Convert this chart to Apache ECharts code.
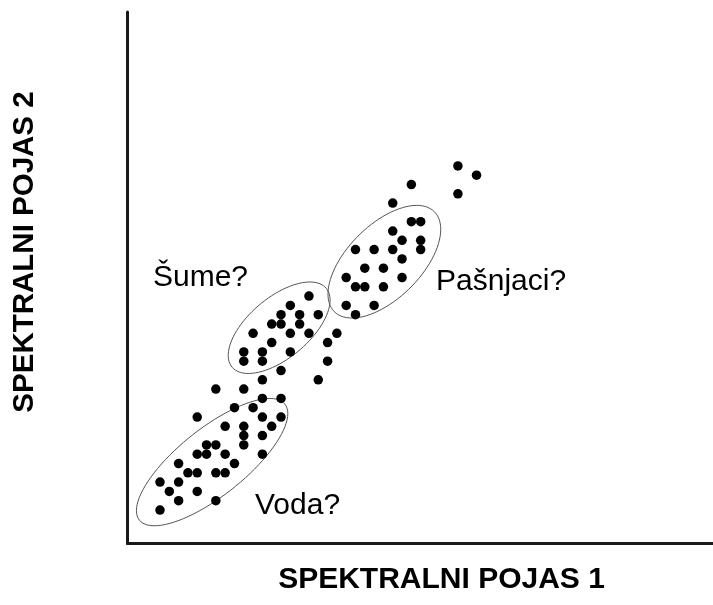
<!DOCTYPE html>
<html>
<head>
<meta charset="utf-8">
<script src="https://cdn.jsdelivr.net/npm/echarts@6/dist/echarts.min.js"></script>
<style>
    html, body {margin: 0; padding: 0; background: #fff;}
    #chart {width: 713px; height: 605px;}
</style>
</head>
<body>
<div id="chart"></div>
<script>
// points per cluster, [band1, band2]
const vodaPts = [[9, 11], [10, 11], [8, 10], [9, 10], [11, 10], [15, 10], [6, 9], [12, 9], [7, 8], [8, 8],
    [10, 8], [11, 8], [4, 7], [6, 7], [5, 6], [8, 6], [6, 5], [10, 5], [4, 4]];
const midPts = [[23, 23], [22, 22], [22, 20], [21, 18], [17, 19], [15, 18], [10, 17], [13, 17], [15, 16], [17, 16],
    [12, 15], [14, 15], [8, 14], [15, 14], [17, 14], [16, 13], [13, 13], [13, 12], [13, 11], [11, 13], [15, 12]];
const sumePts = [[20, 27], [18, 26], [17, 25], [19, 25], [21, 25], [16, 24], [17, 24], [19, 24], [14, 23], [18, 23],
    [20, 23], [16, 22], [13, 21], [13, 20], [15, 21], [15, 20], [18, 21]];
const pasnjaciPts = [[31, 35], [32, 35], [29, 34], [30, 33], [32, 33], [32, 32], [25, 32], [27, 32], [29, 32], [30, 31],
    [26, 30], [28, 30], [24, 29], [30, 29], [25, 28], [26, 28], [28, 28], [24, 26], [27, 26], [25, 25]];
const topPts = [[36, 41], [38, 40], [36, 38], [31, 39], [29, 37]];

// ellipses: [cx, cy, semi-major, semi-minor, angle deg]
const ellipses = [[9.6, 9.15, 10.0, 3.6, 38.6], [16.8, 23.6, 6.6, 3.25, 40], [28.1, 30.7, 7.6, 3.95, 45]];

// cluster labels
const labelTexts = ["Šume?", "Pašnjaci?", "Voda?"];
const xTitle = "SPEKTRALNI POJAS 1";
const yTitle = "SPEKTRALNI POJAS 2";

const FONT = "'Liberation Sans', Arial, sans-serif";
const chart = echarts.init(document.getElementById("chart"));

const axisLine = {show: true, onZero: false, lineStyle: {color: "#1a1a1a", width: 3}};
const dotSeries = (name, data) => ({
    name: name,
    type: "scatter",
    data: data,
    symbolSize: 9.5,
    itemStyle: {color: "#000", opacity: 1},
    silent: true
});

function ellipseItem(params, api) {
    const cx = api.value(0), cy = api.value(1), a = api.value(2), b = api.value(3);
    const ang = api.value(4) * Math.PI / 180;
    const pts = [];
    for (let i = 0; i <= 90; i++) {
        const t = i / 90 * 2 * Math.PI;
        const dx = a * Math.cos(t), dy = b * Math.sin(t);
        pts.push(api.coord([cx + dx * Math.cos(ang) - dy * Math.sin(ang), cy + dx * Math.sin(ang) + dy * Math.cos(ang)]));
    }
    return {type: "polygon", shape: {points: pts}, style: {fill: "none", stroke: "#555", lineWidth: 1}};
}

chart.setOption({
    animation: false,
    backgroundColor: "#fff",
    grid: {left: 127.5, right: 0, top: 12, bottom: 61.5},
    xAxis: {
        type: "value", min: 0.51, max: 63.4,
        axisLine: axisLine, axisTick: {show: false}, axisLabel: {show: false}, splitLine: {show: false}
    },
    yAxis: {
        type: "value", min: 0.4, max: 57.55,
        axisLine: axisLine, axisTick: {show: false}, axisLabel: {show: false}, splitLine: {show: false}
    },
    series: [
        {
            type: "custom",
            renderItem: ellipseItem,
            data: ellipses,
            encode: {x: 0, y: 1},
            clip: false,
            silent: true,
            z: 1
        },
        dotSeries("voda", vodaPts),
        dotSeries("mid", midPts),
        dotSeries("sume", sumePts),
        dotSeries("pasnjaci", pasnjaciPts),
        dotSeries("top", topPts)
    ],
    graphic: [
        {type: "text", left: 153, top: 263, style: {text: labelTexts[0], font: `30px ${FONT}`, fill: "#000"}},
        {type: "text", left: 436, top: 267, style: {text: labelTexts[1], font: `30px ${FONT}`, fill: "#000"}},
        {type: "text", left: 255, top: 491, style: {text: labelTexts[2], font: `30px ${FONT}`, fill: "#000"}},
        {type: "text", x: 441.5, y: 580, style: {text: xTitle, font: `bold 30px ${FONT}`, fill: "#000", align: "center", verticalAlign: "middle"}},
        {type: "text", x: 25, y: 252, rotation: Math.PI / 2,
            style: {text: yTitle, font: `bold 29.5px ${FONT}`, fill: "#000", align: "center", verticalAlign: "middle"}}
    ]
});
</script>
</body>
</html>
